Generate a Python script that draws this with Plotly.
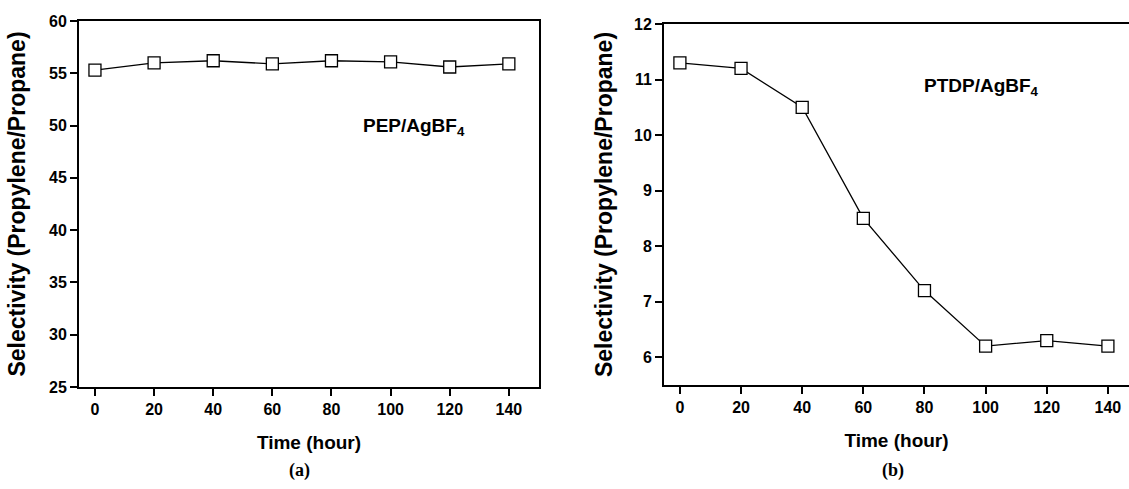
import plotly.graph_objects as go

time_h = [0, 20, 40, 60, 80, 100, 120, 140]
sel_pep = [55.3, 56.0, 56.2, 55.9, 56.2, 56.1, 55.6, 55.9]
sel_ptdp = [11.3, 11.2, 10.5, 8.5, 7.2, 6.2, 6.3, 6.2]
x_ticks = [0, 20, 40, 60, 80, 100, 120, 140]
y_ticks_a = [25, 30, 35, 40, 45, 50, 55, 60]
y_ticks_b = [6, 7, 8, 9, 10, 11, 12]

W, H = 1129, 489
FONT = "Liberation Sans, Arial, sans-serif"

fig = go.Figure()

mk = dict(symbol="square", size=12, color="white", line=dict(color="black", width=1.3))
fig.add_trace(go.Scatter(x=time_h, y=sel_pep, mode="lines+markers",
                         line=dict(color="black", width=1.3), marker=mk,
                         xaxis="x", yaxis="y", showlegend=False))
fig.add_trace(go.Scatter(x=time_h, y=sel_ptdp, mode="lines+markers",
                         line=dict(color="black", width=1.3), marker=mk,
                         xaxis="x2", yaxis="y2", showlegend=False))

tickfont = dict(family=FONT, size=16, color="black", weight="bold")
xtitlefont = dict(family=FONT, size=19, color="black", weight="bold")
ytitlefont = dict(family=FONT, size=23, color="black", weight="bold")

common_ax = dict(showline=True, linecolor="black", linewidth=2, ticks="outside",
                 ticklen=7, tickwidth=2, tickcolor="black", showgrid=False,
                 zeroline=False, tickfont=tickfont, automargin=False)

fig.update_layout(
    width=W, height=H,
    margin=dict(l=0, r=0, t=0, b=0),
    plot_bgcolor="white", paper_bgcolor="white",
    xaxis=dict(domain=[79 / W, 539 / W], range=[-5.4, 150.2], tickvals=x_ticks,
               mirror=True, anchor="y",
               title=dict(text="Time (hour)", font=xtitlefont, standoff=18),
               **common_ax),
    yaxis=dict(domain=[1 - 387 / H, 1 - 21 / H], range=[25, 60], tickvals=y_ticks_a,
               mirror=True, anchor="x",
               title=dict(text="Selectivity (Propylene/Propane)", font=ytitlefont, standoff=17),
               **common_ax),
    xaxis2=dict(domain=[664 / W, 1.0], range=[-5.2, 146.9], tickvals=x_ticks,
                mirror=True, anchor="y2",
                title=dict(text="Time (hour)", font=xtitlefont, standoff=18),
                **common_ax),
    yaxis2=dict(domain=[1 - 385 / H, 1 - 24 / H], range=[5.5, 12], tickvals=y_ticks_b,
                mirror=False, anchor="x2",
                title=dict(text="Selectivity (Propylene/Propane)", font=ytitlefont, standoff=15),
                **common_ax),
)

annfont = dict(family=FONT, size=19, color="black", weight="bold")
fig.add_annotation(x=108, y=49.9, xref="x", yref="y", text="PEP/AgBF<sub>4</sub>",
                   showarrow=False, font=annfont)
fig.add_annotation(x=98.7, y=10.86, xref="x2", yref="y2", text="PTDP/AgBF<sub>4</sub>",
                   showarrow=False, font=annfont)

labfont = dict(family="Liberation Serif, Times New Roman, serif", size=18, color="black", weight="bold")
fig.add_annotation(x=299 / W, y=1 - 470 / H, xref="paper", yref="paper", text="(a)",
                   xanchor="center", yanchor="middle", showarrow=False, font=labfont)
fig.add_annotation(x=893 / W, y=1 - 470 / H, xref="paper", yref="paper", text="(b)",
                   xanchor="center", yanchor="middle", showarrow=False, font=labfont)

fig.write_html("out.html", config={"displayModeBar": False},
               post_script="document.body.style.margin='0px';")
